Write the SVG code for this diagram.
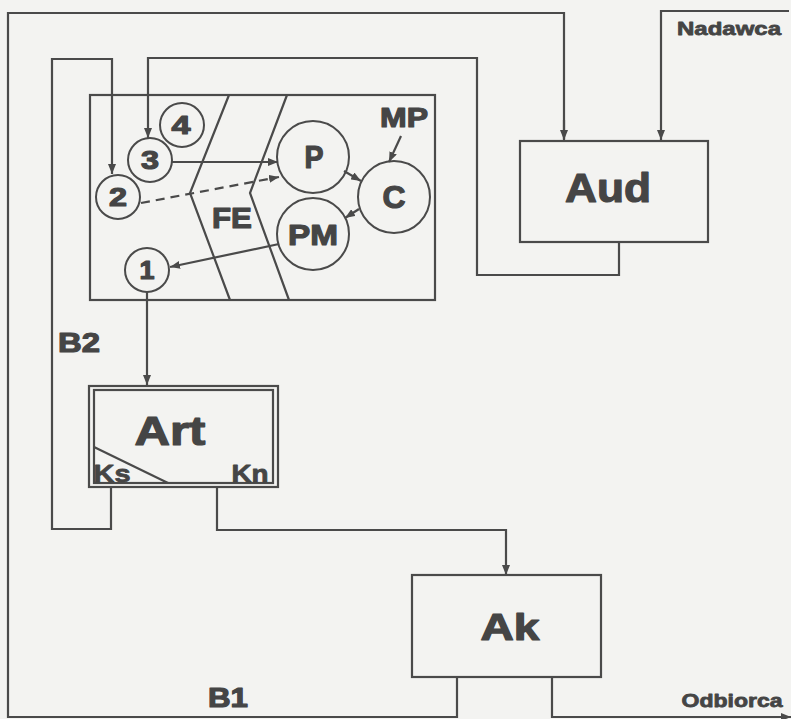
<svg xmlns="http://www.w3.org/2000/svg" width="791" height="719" viewBox="0 0 791 719">
<defs>
<marker id="ah" viewBox="0 0 10 8" refX="10" refY="4" markerWidth="10" markerHeight="8" markerUnits="userSpaceOnUse" orient="auto">
<path d="M0,0 L10,4 L0,8 Z" fill="#4a4a4a"/>
</marker>
</defs>
<style>
.ln{fill:none;stroke:#4a4a4a;stroke-width:2.2}
.box{fill:none;stroke:#4a4a4a;stroke-width:2.2}
.circ{fill:none;stroke:#4a4a4a;stroke-width:2}
.t{font-family:"Liberation Sans",Arial,sans-serif;font-weight:bold;fill:#454545;stroke:#454545;stroke-width:1.2;stroke-linejoin:round;text-anchor:middle}
.s{stroke-width:0.8}
.arr{marker-end:url(#ah)}
</style>
<rect x="0" y="0" width="791" height="719" fill="#f3f3f1"/>

<g id="connectors">
<polyline class="ln" points="457,677 457,717 8,717 8,13 564,13 564,139" />
<polyline class="ln arr" points="564,120 564,140" />
<polyline class="ln arr" points="789,11 661,11 661,140" />
<polyline class="ln arr" points="619,242 619,275 477,275 477,58 148,58 148,138" />
<polyline class="ln arr" points="111,487 111,529 52,529 52,59 112,59 112,174" />
<line class="ln arr" x1="172" y1="162" x2="278" y2="162" />
<line class="ln arr" x1="141" y1="203" x2="279" y2="177" stroke-dasharray="9,6" />
<line class="ln arr" x1="344" y1="171" x2="361" y2="181" />
<line class="ln arr" x1="359" y1="209" x2="345" y2="218" />
<line class="ln arr" x1="401" y1="136" x2="389" y2="162" />
<line class="ln arr" x1="279" y1="244" x2="170" y2="267" />
<line class="ln arr" x1="147" y1="292" x2="147" y2="385" />
<polyline class="ln arr" points="217,487 217,530 506,530 506,575" />
<polyline class="ln arr" points="552,677 552,717 791,717" />
</g>

<g id="frame">
<rect class="box" x="90" y="95" width="345" height="205" />
<polyline class="ln" points="229,95 190,193 230,300" />
<polyline class="ln" points="287,95 250,193 289,300" />
<text class="t" x="232" y="228" font-size="30" textLength="40" lengthAdjust="spacingAndGlyphs">FE</text>
</g>

<g id="n4"><circle class="circ" cx="182" cy="125" r="22"/><text class="t" x="181" y="134" font-size="26" textLength="19" lengthAdjust="spacingAndGlyphs">4</text></g>
<g id="n3"><circle class="circ" cx="150" cy="160" r="22"/><text class="t" x="150" y="169" font-size="26" textLength="18" lengthAdjust="spacingAndGlyphs">3</text></g>
<g id="n2"><circle class="circ" cx="118" cy="197" r="22"/><text class="t" x="118" y="206" font-size="26" textLength="18" lengthAdjust="spacingAndGlyphs">2</text></g>
<g id="n1"><circle class="circ" cx="147" cy="270" r="22"/><text class="t" x="147" y="279" font-size="26" textLength="15" lengthAdjust="spacingAndGlyphs">1</text></g>
<g id="P"><circle class="circ" cx="313" cy="157" r="36"/><text class="t" x="314" y="168" font-size="31" textLength="19" lengthAdjust="spacingAndGlyphs">P</text></g>
<g id="C"><circle class="circ" cx="394" cy="197" r="36"/><text class="t" x="394" y="208" font-size="31" textLength="23" lengthAdjust="spacingAndGlyphs">C</text></g>
<g id="PM"><circle class="circ" cx="313" cy="234" r="36"/><text class="t" x="313" y="245" font-size="30" textLength="50" lengthAdjust="spacingAndGlyphs">PM</text></g>
<g id="MP"><text class="t" x="404" y="127" font-size="28" textLength="48" lengthAdjust="spacingAndGlyphs">MP</text></g>

<g id="Aud">
<rect class="box" x="520" y="141" width="188" height="101" />
<text class="t" x="608" y="202" font-size="40" textLength="86" lengthAdjust="spacingAndGlyphs">Aud</text>
</g>
<g id="Nadawca"><text class="t s" x="729" y="35" font-size="19" textLength="104" lengthAdjust="spacingAndGlyphs">Nadawca</text></g>

<g id="Art">
<rect class="box" x="89" y="386" width="189" height="101" />
<rect class="box" x="94" y="390" width="179" height="93" stroke-width="1.8"/>
<polyline class="ln" points="94,447 168,483" stroke-width="1.8"/>
<text class="t" x="170" y="445" font-size="40" textLength="71" lengthAdjust="spacingAndGlyphs">Art</text>
<text class="t s" x="112" y="482" font-size="24" textLength="37" lengthAdjust="spacingAndGlyphs">Ks</text>
<text class="t s" x="250" y="482" font-size="24" textLength="37" lengthAdjust="spacingAndGlyphs">Kn</text>
</g>

<g id="B2"><text class="t" x="79" y="352" font-size="28" textLength="42" lengthAdjust="spacingAndGlyphs">B2</text></g>
<g id="B1"><text class="t" x="228" y="707" font-size="28" textLength="40" lengthAdjust="spacingAndGlyphs">B1</text></g>

<g id="Ak">
<rect class="box" x="412" y="575" width="189" height="102" />
<text class="t" x="510" y="640" font-size="36" textLength="59" lengthAdjust="spacingAndGlyphs">Ak</text>
</g>
<g id="Odbiorca"><text class="t s" x="732" y="707" font-size="19" textLength="101" lengthAdjust="spacingAndGlyphs">Odbiorca</text></g>
</svg>
